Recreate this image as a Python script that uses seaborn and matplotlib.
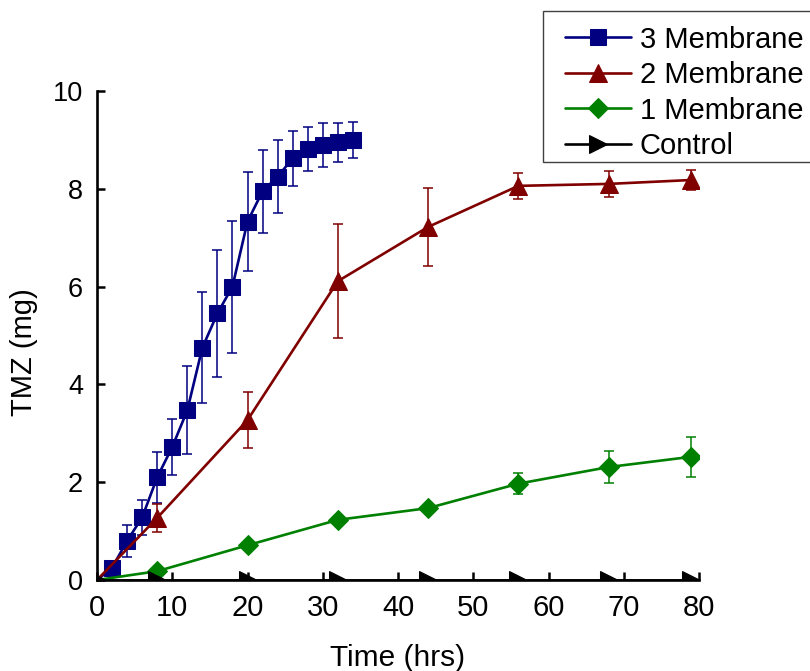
import matplotlib
matplotlib.use("Agg")
import matplotlib.pyplot as plt
from matplotlib.patches import Rectangle
import seaborn as sns
import numpy as np
import pandas as pd

# ---- data ----
t3 = [0, 2, 4, 6, 8, 10, 12, 14, 16, 18, 20, 22, 24, 26, 28, 30, 32, 34]
m3 = [0, 0.25, 0.80, 1.28, 2.10, 2.72, 3.47, 4.75, 5.45, 6.00, 7.33, 7.95, 8.25, 8.62, 8.82, 8.90, 8.95, 9.00]
e3 = [0, 0.10, 0.32, 0.35, 0.52, 0.57, 0.90, 1.13, 1.30, 1.35, 1.01, 0.85, 0.75, 0.56, 0.45, 0.45, 0.40, 0.36]

t2 = [0, 8, 20, 32, 44, 56, 68, 79]
m2 = [0, 1.27, 3.27, 6.11, 7.22, 8.06, 8.10, 8.18]
e2 = [0, 0.28, 0.58, 1.17, 0.80, 0.26, 0.27, 0.20]

t1 = [0, 8, 20, 32, 44, 56, 68, 79]
m1 = [0, 0.18, 0.71, 1.23, 1.47, 1.97, 2.31, 2.52]
e1 = [0, 0.03, 0.05, 0.06, 0.06, 0.22, 0.33, 0.41]

tc = [0, 8, 20, 32, 44, 56, 68, 79]
mc = [0, 0, 0, 0, 0, 0, 0, 0]

labels = ["3 Membrane", "2 Membrane", "1 Membrane", "Control"]
x_ticks = [0, 10, 20, 30, 40, 50, 60, 70, 80]
y_ticks = [0, 2, 4, 6, 8, 10]

# ---- style ----
sns.set_style("ticks")
plt.rcParams["font.family"] = ["Liberation Sans", "DejaVu Sans"]
for k in ["text.color", "axes.labelcolor", "xtick.color", "ytick.color", "axes.edgecolor"]:
    plt.rcParams[k] = "black"

fig = plt.figure(figsize=(8.10, 6.71), dpi=100)
ax = fig.add_axes([97 / 810, 1 - 580 / 671, (699 - 97) / 810, (580 - 91) / 671])

series = [
    (t3, m3, e3, "#000080", "s", 11),
    (t2, m2, e2, "#800000", "^", 13),
    (t1, m1, e1, "#008000", "D", 10.5),
]
for (t, m, e, col, mk, ms), lab in zip(series, labels[:3]):
    df = pd.DataFrame({"t": t, "m": m})
    ax.errorbar(t[1:], m[1:], yerr=e[1:], fmt="none", ecolor=col, elinewidth=1.1,
                capsize=3.4, capthick=1.1, zorder=2)
    sns.lineplot(data=df, x="t", y="m", ax=ax, color=col, marker=mk, markersize=ms,
                 markeredgecolor=col, linewidth=1.9, label=lab,
                 markevery=list(range(1, len(t))), zorder=3)

dfc = pd.DataFrame({"t": tc, "m": mc})
sns.lineplot(data=dfc, x="t", y="m", ax=ax, color="black", marker=">", markersize=13,
             markeredgecolor="black", linewidth=1.9, label=labels[3], zorder=3)

ax.set_xlim(0, 80)
ax.set_ylim(0, 10)
ax.set_xticks(x_ticks)
ax.set_yticks(y_ticks)
ax.set_xticklabels([str(v) for v in x_ticks], fontsize=21)
ax.set_yticklabels([str(v) for v in y_ticks], fontsize=19.5)
ax.tick_params(axis="x", direction="in", length=6, width=1.8, pad=10)
ax.tick_params(axis="y", direction="in", length=6, width=1.8, pad=10)
ax.set_xlabel("Time (hrs)", fontsize=21.5, labelpad=16)
ax.set_ylabel("TMZ (mg)", fontsize=21)
ax.yaxis.set_label_coords(-0.098, 0.466)
for s in ["top", "right"]:
    ax.spines[s].set_visible(False)
for s in ["left", "bottom"]:
    ax.spines[s].set_linewidth(1.9)
    ax.spines[s].set_color("black")

# legend frame (extends past the right edge of the figure, as in the reference)
fig.patches.append(Rectangle((543 / 810, 1 - 162 / 671), 280 / 810, 151 / 671,
                             transform=fig.transFigure, facecolor="white",
                             edgecolor="#404040", linewidth=1.0, zorder=4))

handles, labs = ax.get_legend_handles_labels()
ax.get_legend().remove()
leg = fig.legend(handles, labs, loc="upper left", bbox_to_anchor=(565 / 810, 1 - 25.5 / 671),
                 fontsize=21, frameon=False,
                 handlelength=2.26, handletextpad=0.3, borderpad=0, labelspacing=0.26,
                 borderaxespad=0)
leg.set_zorder(5)

fig.savefig("out.png", dpi=100)
